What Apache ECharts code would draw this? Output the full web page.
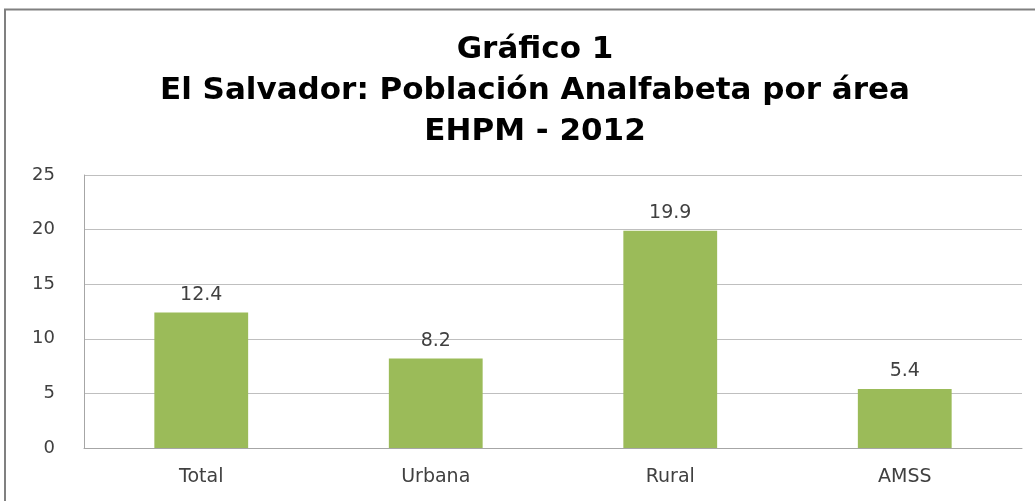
<!DOCTYPE html>
<html>
<head>
<meta charset="utf-8">
<script src="https://cdn.jsdelivr.net/npm/echarts@6/dist/echarts.min.js"></script>
<style>
  html, body { margin: 0; padding: 0; background: #fff; }
  #chart { width: 1035px; height: 501px; }
</style>
</head>
<body>
<div id="chart"></div>
<script>
  const categories = ["Total", "Urbana", "Rural", "AMSS"];
  const values = [12.4, 8.2, 19.9, 5.4];
  const yTicks = [0, 5, 10, 15, 20, 25];

  const myChart = echarts.init(document.getElementById("chart"));
  myChart.setOption({
    animation: false,
    title: {
      text: "Gráfico 1\nEl Salvador: Población Analfabeta por área\nEHPM - 2012",
      left: 530,
      top: 24,
      textAlign: "center",
      textStyle: {
        fontFamily: "DejaVu Sans",
        fontWeight: "bold",
        fontSize: 31,
        lineHeight: 41,
        color: "#000",
      },
    },
    graphic: [
      {
        type: "rect",
        shape: { x: 5, y: 9.5, width: 1100, height: 600 },
        style: { fill: "none", stroke: "#808080", lineWidth: 2 },
      },
    ],
    grid: { left: 84, right: 13, top: 175, bottom: 53 },
    xAxis: {
      type: "category",
      data: categories,
      axisLine: { lineStyle: { color: "#A6A6A6", width: 1 } },
      axisTick: { show: false },
      axisLabel: {
        margin: 20,
        fontFamily: "DejaVu Sans",
        fontSize: 19,
        color: "#404040",
      },
    },
    yAxis: {
      type: "value",
      min: yTicks[0],
      max: yTicks[yTicks.length - 1],
      interval: 5,
      axisLine: { show: true, lineStyle: { color: "#A6A6A6", width: 1 } },
      axisTick: { show: false },
      splitLine: { lineStyle: { color: "#BFBFBF", width: 1 } },
      axisLabel: {
        margin: 29,
        fontFamily: "DejaVu Sans",
        fontSize: 18,
        color: "#404040",
      },
    },
    series: [
      {
        type: "bar",
        data: values,
        barWidth: "40%",
        itemStyle: { color: "#9BBB59" },
        label: {
          show: true,
          position: "top",
          distance: 8,
          fontFamily: "DejaVu Sans",
          fontSize: 19,
          color: "#404040",
          formatter: (p) => p.value.toFixed(1),
        },
      },
    ],
  });
</script>
</body>
</html>
